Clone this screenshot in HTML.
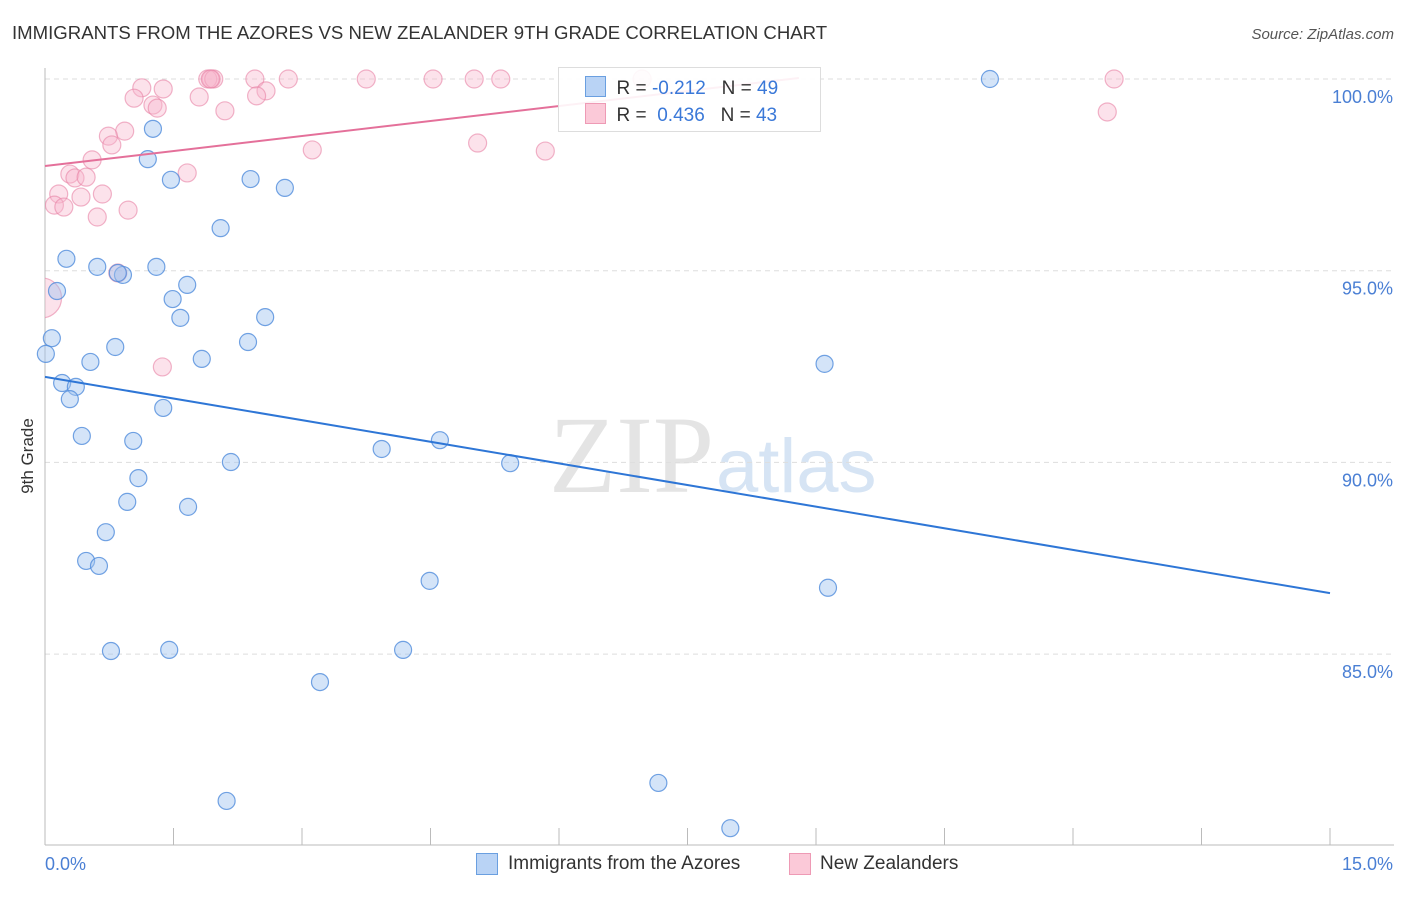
<!DOCTYPE html>
<html><head><meta charset="utf-8"><style>
body{margin:0;background:#fff;font-family:"Liberation Sans",sans-serif;}
#wrap{position:relative;width:1406px;height:892px;overflow:hidden;}
</style></head><body>
<div id="wrap">
<svg id="svg" width="1406" height="892" xmlns="http://www.w3.org/2000/svg">
<defs><clipPath id="plotclip"><rect x="45" y="40" width="1360" height="805"/></clipPath></defs>
<text x="12" y="39" font-size="18.6" fill="#333">IMMIGRANTS FROM THE AZORES VS NEW ZEALANDER 9TH GRADE CORRELATION CHART</text>
<text x="1394" y="39" font-size="15" fill="#555" font-style="italic" text-anchor="end">Source: ZipAtlas.com</text>
<text x="33" y="456" font-size="17" fill="#333" transform="rotate(-90 33 456)" text-anchor="middle">9th Grade</text>
<text x="714" y="492" font-size="110" fill="#e4e4e4" text-anchor="end" font-family="Liberation Serif,serif">ZIP</text>
<text x="716" y="492" font-size="76" fill="#d6e4f4">atlas</text>
<g id="grid"></g><g id="pinkmarks" clip-path="url(#plotclip)"></g><g id="marks"></g>
</svg>
</div>
<script>
const xTicks=[0,1.5,3,4.5,6,7.5,9,10.5,12,13.5,15];
const yTicks=[100,95,90,85];
const yTickLabels=["100.0%","95.0%","90.0%","85.0%"];
const blueX=[11.03,1.26,1.20,1.47,2.40,2.80,2.05,0.25,0.61,1.30,0.91,0.85,0.14,1.66,1.49,1.58,2.57,0.08,0.82,2.37,0.01,0.53,1.83,9.10,0.20,0.36,0.29,1.38,0.43,1.03,3.93,4.61,2.17,5.43,1.09,0.96,1.67,0.71,0.48,0.63,4.49,9.14,0.77,1.45,4.18,3.21,7.16,2.12,8.00];
const blueY=[100,98.70,97.91,97.37,97.39,97.16,96.11,95.31,95.10,95.10,94.89,94.94,94.47,94.63,94.26,93.77,93.79,93.24,93.01,93.14,92.83,92.62,92.70,92.57,92.07,91.97,91.65,91.42,90.69,90.56,90.35,90.58,90.01,89.98,89.59,88.97,88.84,88.18,87.43,87.30,86.91,86.73,85.08,85.11,85.11,84.27,81.64,81.17,80.46];
const pinkX=[1.94,1.90,1.97,2.45,2.84,3.75,4.53,5.01,5.32,6.97,12.48,1.93,1.13,1.38,1.04,1.26,1.31,1.80,2.58,2.47,2.10,12.40,0.93,0.74,0.78,3.12,5.05,5.84,0.55,1.66,0.29,0.35,0.48,0.16,0.42,0.67,0.11,0.22,0.97,0.61,0.85,1.37,-0.04];
const pinkY=[100,100,100,100,100,100,100,100,100,100,100,100,99.77,99.74,99.50,99.32,99.24,99.53,99.69,99.56,99.17,99.14,98.64,98.51,98.28,98.15,98.33,98.12,97.89,97.55,97.52,97.42,97.44,97.00,96.92,97.00,96.71,96.66,96.58,96.40,94.94,92.49,94.29];
const pinkR=[9,9,9,9,9,9,9,9,9,9,9,9,9,9,9,9,9,9,9,9,9,9,9,9,9,9,9,9,9,9,9,9,9,9,9,9,9,9,9,9,9,9,20];
const blueTrend=[92.23,86.59];
const pinkTrend=[97.73,0.261];
const X=v=>45+v*1285/15;
const Y=v=>79+(100-v)*191.7/5;
const NS="http://www.w3.org/2000/svg";
function mk(parent,tag,attrs){const e=document.createElementNS(NS,tag);for(const k in attrs)e.setAttribute(k,attrs[k]);parent.appendChild(e);return e;}
const grid=document.getElementById('grid'),marks=document.getElementById('marks'),pinkmarks=document.getElementById('pinkmarks');
yTicks.forEach((t,i)=>{
 let l=mk(grid,'line',{x1:45,x2:1394,y1:Y(t),y2:Y(t),stroke:'#ddd','stroke-dasharray':'5,4'});
 
 
 let tx=mk(grid,'text',{x:1393,y:Y(t)+24,'font-size':18,fill:'#4a7fd4','text-anchor':'end'});
 tx.textContent=yTickLabels[i];
 
 
});
let ax=mk(grid,'line',{x1:45,x2:45,y1:68,y2:845,stroke:'#bbb'});


let bx=mk(grid,'line',{x1:45,x2:1394,y1:845,y2:845,stroke:'#bbb'});


xTicks.forEach(t=>{
 let l=mk(grid,'line',{x1:X(t),x2:X(t),y1:828,y2:845,stroke:'#bbb'});
 
 
});
let xl0=mk(grid,'text',{x:45,y:870,'font-size':18,fill:'#4a7fd4'});xl0.textContent='0.0%';


let xl1=mk(grid,'text',{x:1393,y:870,'font-size':18,fill:'#4a7fd4','text-anchor':'end'});xl1.textContent='15.0%';


pinkX.forEach((x,i)=>{
 let c=mk(pinkmarks,'circle',{cx:X(x),cy:Y(pinkY[i]),r:pinkR[i],fill:'rgba(248,182,204,0.4)',stroke:'rgba(232,130,165,0.6)','stroke-width':1.2});
 
 
});
blueX.forEach((x,i)=>{
 let c=mk(marks,'circle',{cx:X(x),cy:Y(blueY[i]),r:8.5,fill:'rgba(160,196,240,0.45)',stroke:'rgba(80,140,220,0.8)','stroke-width':1.2});
 
 
});
let bt=mk(marks,'line',{x1:X(0),y1:Y(blueTrend[0]),x2:X(15),y2:Y(blueTrend[1]),stroke:'#2e76d6','stroke-width':2});


const pEnd=8.8;
let pt=mk(marks,'line',{x1:X(0),y1:Y(pinkTrend[0]),x2:X(pEnd),y2:Y(pinkTrend[0]+pinkTrend[1]*pEnd),stroke:'#e4709a','stroke-width':2});


</script>
<div style="position:absolute;left:558px;top:67px;width:261px;height:63px;border:1px solid #ddd;background:rgba(255,255,255,0.9);font-size:19px;color:#333;">
 <div style="position:absolute;left:26px;top:8px;white-space:pre;"><span style="display:inline-block;width:19px;height:19px;background:#b9d3f5;border:1px solid #6a9fe0;vertical-align:-3px;"></span>  R = <span style="color:#3a78d8">-0.212</span>   N = <span style="color:#3a78d8">49</span></div>
 <div style="position:absolute;left:26px;top:35px;white-space:pre;"><span style="display:inline-block;width:19px;height:19px;background:#fbc9d8;border:1px solid #ee9ab5;vertical-align:-3px;"></span>  R =  <span style="color:#3a78d8">0.436</span>   N = <span style="color:#3a78d8">43</span></div>
</div>
<div style="position:absolute;top:853px;left:476px;font-size:19px;color:#333;white-space:pre;height:22px;line-height:22px;">
 <span style="position:absolute;left:0;top:0;width:20px;height:20px;background:#b9d3f5;border:1px solid #6a9fe0;"></span><span style="position:absolute;left:32px;top:0;">Immigrants from the Azores</span>
</div>
<div style="position:absolute;top:853px;left:789px;font-size:19px;color:#333;white-space:pre;height:22px;line-height:22px;">
 <span style="position:absolute;left:0;top:0;width:20px;height:20px;background:#fbc9d8;border:1px solid #ee9ab5;"></span><span style="position:absolute;left:31px;top:0;">New Zealanders</span>
</div>
</body></html>
